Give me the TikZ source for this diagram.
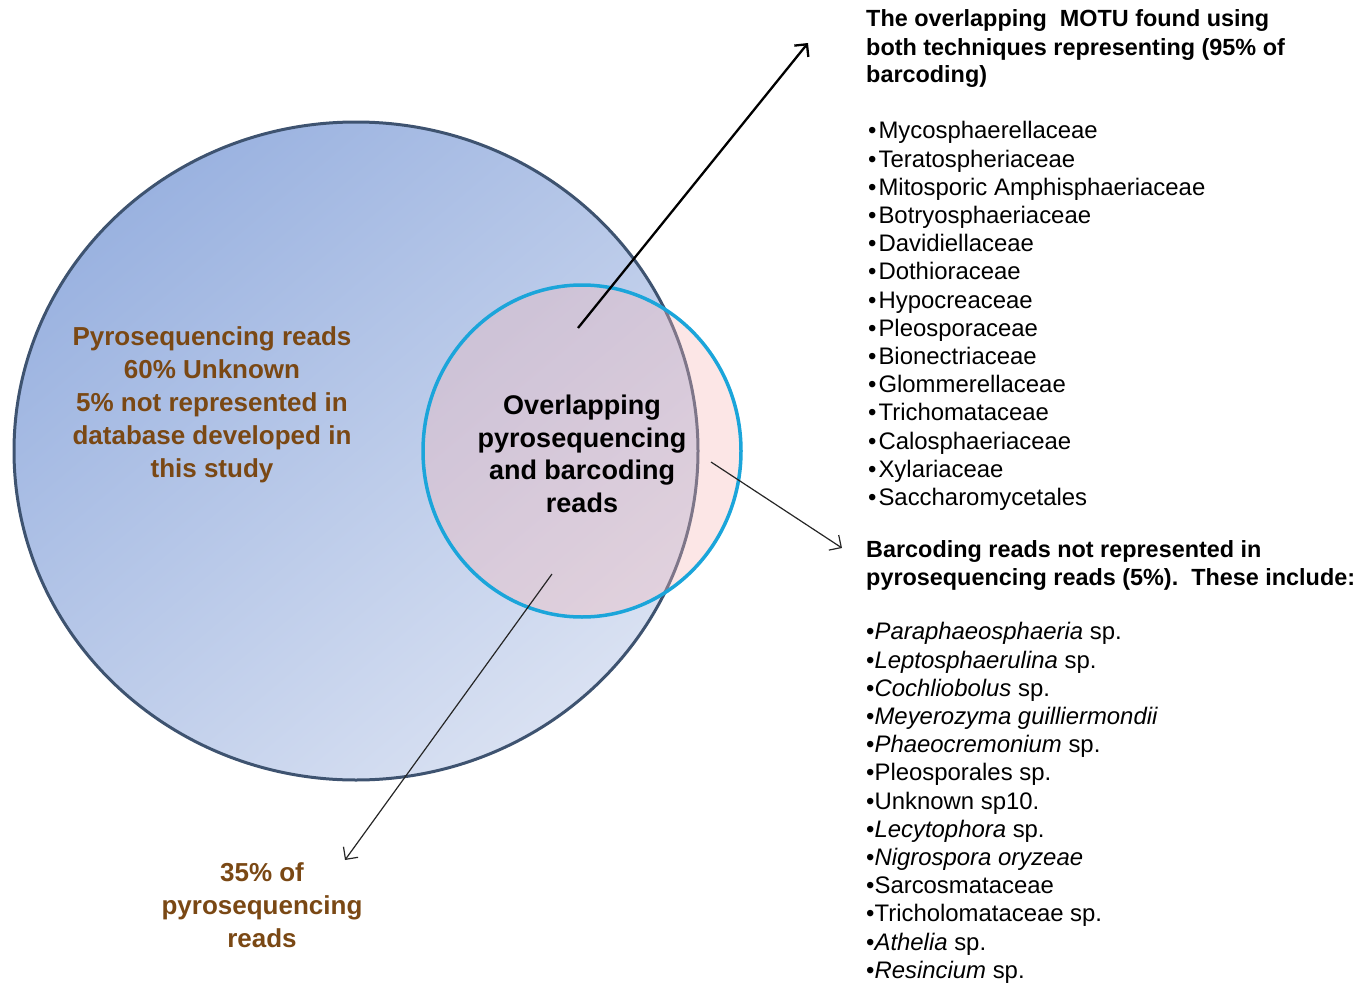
\documentclass[tikz,border=0pt]{standalone}
\usepackage{fontspec}
\setmainfont{Liberation Sans}
\usetikzlibrary{arrows.meta}
\definecolor{blueA}{HTML}{9AB2E0}
\definecolor{blueB}{HTML}{D9E1F2}
\definecolor{rimA}{HTML}{3E5370}
\definecolor{cyanB}{HTML}{1BA5DA}
\definecolor{pinkC}{HTML}{F6B8B8}
\definecolor{brownT}{HTML}{7A4814}
\begin{document}
\begin{tikzpicture}[x=1pt,y=-1pt,
  browntext/.style={text=brownT, font=\bfseries\fontsize{26}{33}\selectfont, align=center, inner sep=0pt},
  centertext/.style={text=black, font=\bfseries\fontsize{27}{32.5}\selectfont, align=center, inner sep=0pt},
  headtext/.style={text=black, font=\bfseries\fontsize{23.4}{28}\selectfont, align=left, inner sep=0pt, anchor=west},
  listtext/.style={text=black, font=\fontsize{23.9}{28.2}\selectfont, align=left, inner sep=0pt, anchor=west},
  thickarrow/.style={line width=2.3pt, -{Straight Barb[length=9pt,width=18pt,line width=2.3pt]}},
  thinarrow/.style={line width=1.2pt, draw=black!85, -{Straight Barb[length=9pt,width=18pt,line width=1.2pt]}}
]
\useasboundingbox (0,0) rectangle (1369,985);
% big circle
\shade[top color=blueA, bottom color=blueB, shading angle=40] (356,451) ellipse [x radius=342, y radius=329];
\draw[rimA, line width=3pt] (356,451) ellipse [x radius=342, y radius=329];
% small circle
\fill[pinkC, fill opacity=0.35] (582,451) ellipse [x radius=159, y radius=166];
\draw[cyanB, line width=3.5pt] (582,451) ellipse [x radius=159, y radius=166];

% texts
\node[browntext] (pyro) at (212,405) {Pyrosequencing reads\\60\% Unknown\\5\% not represented in\\database developed in\\this study};
\node[centertext] (overlap) at (582,454) {Overlapping\\pyrosequencing\\and barcoding\\reads};
\node[browntext] (p35) at (262,905) {35\% of\\pyrosequencing\\reads};

\node[headtext] (head1) at (866,49) {The overlapping\ \ MOTU found using\\both techniques representing (95\% of\\barcoding)};
\node[listtext] (list1) at (868,316) {•\hspace{2pt}Mycosphaerellaceae\\•\hspace{2pt}Teratospheriaceae\\•\hspace{2pt}Mitosporic Amphisphaeriaceae\\•\hspace{2pt}Botryosphaeriaceae\\•\hspace{2pt}Davidiellaceae\\•\hspace{2pt}Dothioraceae\\•\hspace{2pt}Hypocreaceae\\•\hspace{2pt}Pleosporaceae\\•\hspace{2pt}Bionectriaceae\\•\hspace{2pt}Glommerellaceae\\•\hspace{2pt}Trichomataceae\\•\hspace{2pt}Calosphaeriaceae\\•\hspace{2pt}Xylariaceae\\•\hspace{2pt}Saccharomycetales};
\node[headtext] (head2) at (866,565) {Barcoding reads not represented in\\pyrosequencing reads (5\%).\ \ These include:};
\node[listtext] (list2) at (866,803) {•\textit{Paraphaeosphaeria} sp.\\•\textit{Leptosphaerulina} sp.\\•\textit{Cochliobolus} sp.\\•\textit{Meyerozyma guilliermondii}\\•\textit{Phaeocremonium} sp.\\•Pleosporales sp.\\•Unknown sp10.\\•\textit{Lecytophora} sp.\\•\textit{Nigrospora oryzeae}\\•Sarcosmataceae\\•Tricholomataceae sp.\\•\textit{Athelia} sp.\\•\textit{Resincium} sp.};

% connectors
\coordinate (a1s) at (578,328);
\coordinate (a1e) at (808,43);
\coordinate (a2s) at (711,462);
\coordinate (a2e) at (842,548);
\coordinate (a3s) at (552,574);
\coordinate (a3e) at (345,860);
\draw[thickarrow] (a1s) -- (a1e);
\draw[thinarrow] (a2s) -- (a2e);
\draw[thinarrow] (a3s) -- (a3e);
\end{tikzpicture}
\end{document}
